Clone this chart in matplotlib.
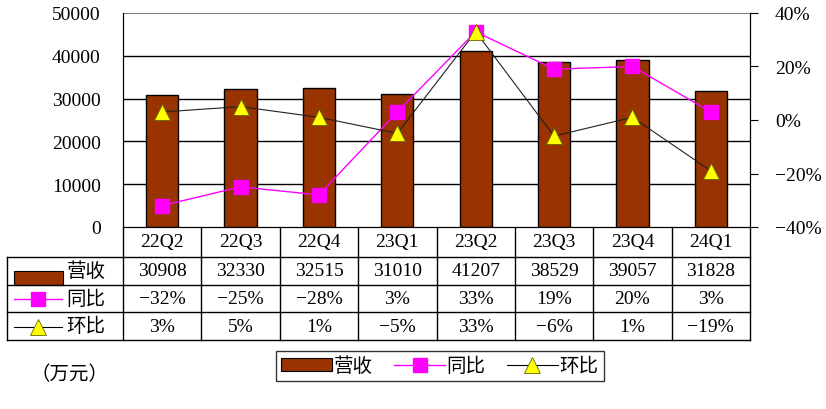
import matplotlib
matplotlib.use('Agg')
import matplotlib.pyplot as plt
from matplotlib.lines import Line2D
from matplotlib.patches import Rectangle

plt.rcParams['font.family'] = ['Liberation Serif', 'Noto Sans CJK SC']
plt.rcParams['axes.unicode_minus'] = True

quarters = ['22Q2', '22Q3', '22Q4', '23Q1', '23Q2', '23Q3', '23Q4', '24Q1']
revenue = [30908, 32330, 32515, 31010, 41207, 38529, 39057, 31828]
yoy = [-32, -25, -28, 3, 33, 19, 20, 3]
qoq = [3, 5, 1, -5, 33, -6, 1, -19]
row_names = ['营收', '同比', '环比']

BAR = '#993300'
MAG = '#FF00FF'
YEL = '#FFFF00'
FS = 14

W, H = 826, 410


def fx(x):
    return x / W


def fy(y):
    return 1 - y / H


def pct(v):
    return f'{v}%'.replace('-', '\u2212')


fig = plt.figure(figsize=(8.26, 4.10), dpi=100)
L, R, T, B = 123, 750, 14, 228
ax = fig.add_axes([fx(L), fy(B), fx(R - L), fy(T) - fy(B)])
ax2 = ax.twinx()

x = list(range(len(quarters)))
ax.bar(x, revenue, width=0.41, color=BAR, edgecolor='black', linewidth=1, zorder=3)
ax.set_xlim(-0.5, len(quarters) - 0.5)
ax.set_ylim(0, 50000)
ax.set_yticks(range(0, 50001, 10000))
ax.tick_params(axis='y', length=0, pad=16, labelsize=FS)
ax.set_xticks([])
for v in range(10000, 50000, 10000):
    ax.axhline(v, color='black', linewidth=1, zorder=1)
for s in ['left', 'right', 'bottom']:
    ax.spines[s].set_color('black')
ax.spines['top'].set_color('#808080')

ax2.set_ylim(-40, 40)
ax2.set_yticks(range(-40, 41, 20))
ax2.set_yticklabels([pct(v) for v in range(-40, 41, 20)])
ax2.tick_params(axis='y', length=6, pad=12, labelsize=FS, direction='out')
ax2.spines['top'].set_visible(False)
ax2.plot(x, yoy, color=MAG, linewidth=1, marker='s', markersize=10,
         markerfacecolor=MAG, markeredgecolor=MAG, zorder=4)
ax2.plot(x, qoq, color='#222222', linewidth=0.8, marker='^', markersize=11,
         markerfacecolor=YEL, markeredgecolor='#666600', markeredgewidth=0.6, zorder=5)

# data table below the axes
colw = (R - L) / len(quarters)
rows_y = [B, 258, 286, 313, 341]
lw = 1
for k in range(len(quarters) + 1):
    xx = L + k * colw
    fig.add_artist(Line2D([fx(xx), fx(xx)], [fy(B), fy(341)], color='black', lw=lw))
fig.add_artist(Line2D([fx(7), fx(7)], [fy(258), fy(341)], color='black', lw=lw))
for yy in rows_y[1:]:
    fig.add_artist(Line2D([fx(7), fx(R)], [fy(yy), fy(yy)], color='black', lw=lw))

for i, q in enumerate(quarters):
    cx = L + (i + 0.5) * colw
    fig.text(fx(cx), fy(243), q, ha='center', va='center', fontsize=FS)
    fig.text(fx(cx), fy(272), str(revenue[i]), ha='center', va='center', fontsize=FS)
    fig.text(fx(cx), fy(300), pct(yoy[i]), ha='center', va='center', fontsize=FS)
    fig.text(fx(cx), fy(327), pct(qoq[i]), ha='center', va='center', fontsize=FS)

row_cy = [272, 300, 327]
for name, cy in zip(row_names, row_cy):
    fig.text(fx(86), fy(cy), name, ha='center', va='center', fontsize=FS)
fig.add_artist(Rectangle((fx(14), fy(286)), fx(49), fy(272) - fy(286),
                         facecolor=BAR, edgecolor='black', lw=0.8))
fig.add_artist(Line2D([fx(14), fx(38), fx(62)], [fy(300)] * 3, color=MAG, lw=1,
                      marker='s', markersize=10, markevery=[1], markerfacecolor=MAG,
                      markeredgecolor=MAG))
fig.add_artist(Line2D([fx(14), fx(38), fx(62)], [fy(328)] * 3, color='black',
                      lw=0.8, marker='^', markersize=11, markevery=[1],
                      markerfacecolor=YEL, markeredgecolor='#666600', markeredgewidth=0.6))

# legend
handles = [
    Rectangle((0, 0), 1, 1, facecolor=BAR, edgecolor='black', lw=0.8),
    Line2D([], [], color=MAG, lw=1, marker='s', markersize=10,
           markerfacecolor=MAG, markeredgecolor=MAG),
    Line2D([], [], color='black', lw=0.8, marker='^', markersize=11,
           markerfacecolor=YEL, markeredgecolor='#666600', markeredgewidth=0.6),
]
leg = fig.legend(handles, row_names, ncol=3, loc='center',
                 bbox_to_anchor=(fx(440), fy(367)), fontsize=FS, frameon=True,
                 fancybox=False, edgecolor='black', handlelength=2.6,
                 handletextpad=0.1, columnspacing=1.1, borderpad=0.3,
                 borderaxespad=0, handleheight=0.7)
leg.get_frame().set_linewidth(1)

fig.text(fx(70), fy(375), '（万元）', ha='center', va='center', fontsize=FS)

fig.savefig('out.png', dpi=100)
